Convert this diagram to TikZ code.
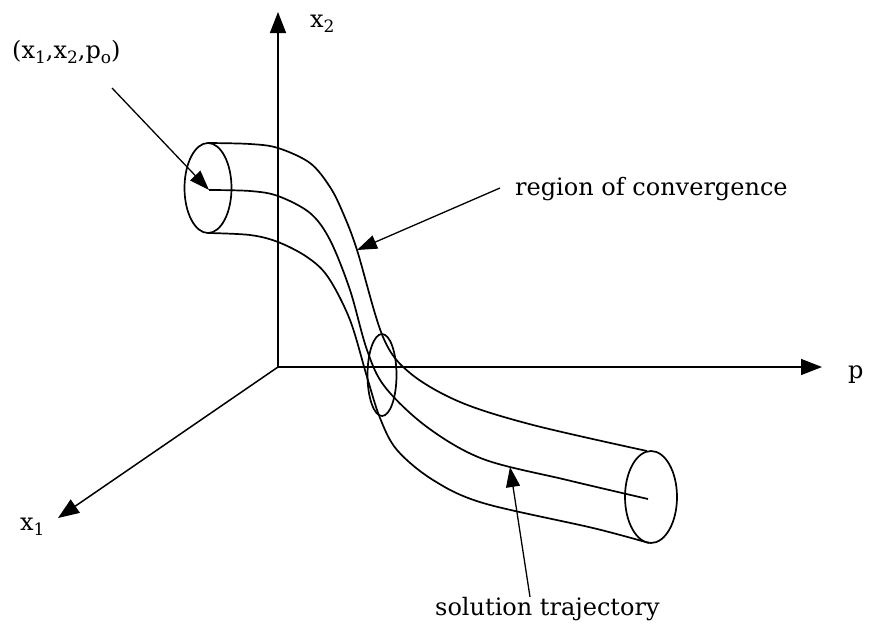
\documentclass[tikz,border=0pt]{standalone}
\usepackage{fontspec}
\setmainfont{DejaVu Serif}
\usetikzlibrary{arrows.meta}
\newcommand\lowsub[1]{\raisebox{-0.22em}{\fontsize{17}{20}\selectfont #1}}
\begin{document}
\begin{tikzpicture}[x=1pt,y=-1pt,
  axis/.style={line width=1.5pt,-{Triangle[length=21pt,width=16pt]}},
  tube/.style={line width=1.7pt},
  pointer/.style={line width=1.3pt,-{Triangle[length=20pt,width=14pt]}},
  lbl/.style={font=\fontsize{24}{28}\selectfont, inner sep=0pt, anchor=base west},
]
\useasboundingbox (0,0) rectangle (869,624);
% axes
\coordinate (O) at (278,367);
\coordinate (x2end) at (278,12);
\coordinate (pend) at (822,367);
\coordinate (x1end) at (58,518);
\draw[axis] (O) -- (x2end);
\draw[axis] (O) -- (pend);
\draw[axis] (O) -- (x1end);
\node[lbl] (lx2) at (310,27) {x\lowsub{2}};
\node[lbl] (lp) at (848,378) {p};
\node[lbl] (lx1) at (20,530) {x\lowsub{1}};
% tube
\draw[tube] plot[smooth, tension=0.55] coordinates {(208,143) (250,144) (278,148) (310,163) (330,187) (343,213) (357,250) (383,337) (410,373) (460,402) (533,425) (647,451)};
\draw[tube] plot[smooth, tension=0.55] coordinates {(209,190) (250,191) (278,196) (310,213) (330,240) (350,290) (367,350) (385,387) (427,427) (483,459) (567,480) (648,499)};
\draw[tube] plot[smooth, tension=0.55] coordinates {(208,233) (250,235) (278,242) (307,257) (328,277) (350,320) (367,377) (380,418) (397,450) (433,480) (483,503) (593,528) (649,543)};
\draw[tube] (208,188) ellipse [x radius=23.5, y radius=45];
\draw[tube] (382,375) ellipse [x radius=14.5, y radius=41];
\draw[tube] (651,497) ellipse [x radius=26, y radius=46];
% labels and pointers
\node[lbl] (lstart) at (12,58) {(x\lowsub{1},x\lowsub{2},p\lowsub{o})};
\coordinate (sstart) at (112,88);
\coordinate (stip) at (209,190);
\draw[pointer] (sstart) -- (stip);
\node[lbl] (lroc) at (515,195) {region of convergence};
\coordinate (rstart) at (500,188);
\coordinate (rtip) at (357,250);
\draw[pointer] (rstart) -- (rtip);
\node[lbl] (lsol) at (435,615) {solution trajectory};
\coordinate (tstart) at (530,597);
\coordinate (ttip) at (510,467);
\draw[pointer] (tstart) -- (ttip);
\end{tikzpicture}
\end{document}
